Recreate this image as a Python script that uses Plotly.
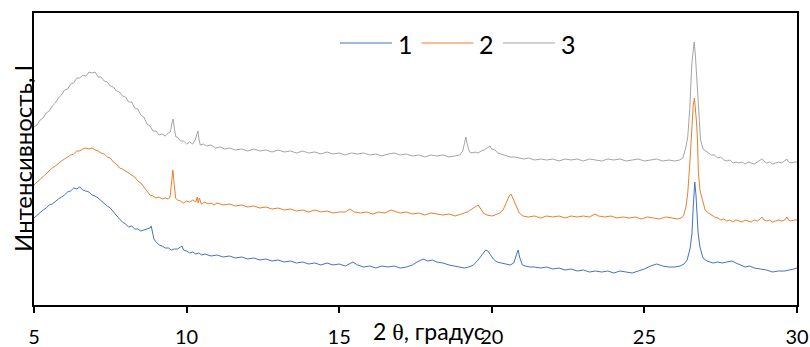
import plotly.graph_objects as go

# ---- data (2θ in degrees, intensity in arbitrary units) ----
series_names = ["1", "2", "3"]
series_colors = ["#4472C4", "#ED7D31", "#A5A5A5"]

x1 = [5.0, 5.1, 5.2, 5.3, 5.4, 5.5, 5.6, 5.7, 5.8, 5.9, 6.0, 6.1, 6.2, 6.3, 6.4, 6.5, 6.6, 6.7, 6.8, 6.9,
      7.0, 7.1, 7.2, 7.3, 7.4, 7.5, 7.6, 7.7, 7.8, 7.9, 8.0, 8.1, 8.2, 8.3, 8.4, 8.5, 8.6, 8.7, 8.8, 8.84,
      8.88, 8.93, 9.0, 9.1, 9.2, 9.3, 9.4, 9.5, 9.6, 9.7, 9.8, 9.85, 9.9, 10.0, 10.1, 10.2, 10.3, 10.4, 10.5, 10.6,
      10.8, 11.0, 11.2, 11.4, 11.6, 11.8, 12.0, 12.2, 12.4, 12.6, 12.8, 13.0, 13.2, 13.4, 13.6, 13.8, 14.0, 14.2, 14.4, 14.6,
      14.8, 15.0, 15.2, 15.35, 15.45, 15.6, 15.8, 16.0, 16.2, 16.4, 16.6, 16.8, 17.0, 17.2, 17.4, 17.55, 17.75, 17.9, 18.05, 18.2,
      18.4, 18.6, 18.8, 19.0, 19.1, 19.25, 19.4, 19.55, 19.7, 19.8, 19.87, 19.95, 20.05, 20.17, 20.3, 20.45, 20.6, 20.72, 20.8, 20.86,
      20.92, 21.0, 21.1, 21.25, 21.4, 21.6, 21.8, 22.0, 22.2, 22.4, 22.6, 22.8, 23.0, 23.2, 23.4, 23.6, 23.8, 24.0, 24.2, 24.4,
      24.6, 24.8, 25.0, 25.2, 25.4, 25.6, 25.8, 26.0, 26.17, 26.3, 26.4, 26.5, 26.56, 26.6, 26.65, 26.69, 26.72, 26.76, 26.82, 26.92,
      27.05, 27.15, 27.25, 27.4, 27.55, 27.7, 27.87, 28.0, 28.15, 28.3, 28.45, 28.6, 28.8, 29.0, 29.2, 29.4, 29.6, 29.8, 29.9, 30.0]
y1 = [87, 90, 92, 95, 97, 100, 101, 104, 106, 108, 110, 113, 114, 117, 116, 118, 115, 114, 113, 110,
      109, 107, 104, 102, 99, 97, 93, 90, 86, 83, 81, 78, 79, 76, 76, 74, 75, 76, 77, 79,
      72, 66, 63, 60, 59, 57, 57, 55, 56, 56, 58, 59, 55, 54, 52, 53, 51, 52, 50, 51,
      49, 50, 48, 49, 47, 48, 46, 47, 45, 46, 44, 45, 43, 44, 42, 43, 41, 42, 40, 42,
      40, 41, 39, 41, 43, 40, 38, 39, 37, 39, 38, 39, 37, 38, 40, 43, 46, 44, 45, 43,
      42, 40, 39, 38, 37, 38, 40, 45, 51, 55, 54, 50, 46, 43, 42, 41, 40, 42, 50, 55,
      47, 40, 39, 38, 38, 37, 38, 36, 37, 35, 36, 34, 35, 33, 34, 33, 34, 32, 34, 33,
      32, 34, 36, 39, 41, 39, 38, 38, 39, 41, 45, 57, 72, 98, 123, 110, 92, 72, 58, 47,
      44, 43, 42, 43, 42, 43, 44, 42, 40, 38, 39, 37, 36, 35, 33, 34, 34, 35, 36, 37]

x2 = [5.0, 5.1, 5.2, 5.3, 5.4, 5.5, 5.6, 5.7, 5.8, 5.9, 6.0, 6.1, 6.2, 6.3, 6.4, 6.5, 6.6, 6.7, 6.8, 6.9,
      7.0, 7.1, 7.2, 7.3, 7.4, 7.5, 7.6, 7.7, 7.8, 7.9, 8.0, 8.1, 8.2, 8.3, 8.4, 8.5, 8.6, 8.7, 8.8, 8.9,
      9.0, 9.1, 9.2, 9.3, 9.4, 9.46, 9.51, 9.55, 9.59, 9.64, 9.7, 9.8, 9.9, 10.0, 10.1, 10.2, 10.3, 10.35, 10.38, 10.42,
      10.48, 10.6, 10.7, 10.8, 10.9, 11.0, 11.2, 11.4, 11.6, 11.8, 12.0, 12.2, 12.4, 12.6, 12.8, 13.0, 13.2, 13.4, 13.6, 13.8,
      14.0, 14.2, 14.4, 14.6, 14.8, 15.0, 15.2, 15.35, 15.5, 15.7, 15.9, 16.1, 16.3, 16.5, 16.7, 16.8, 17.0, 17.2, 17.4, 17.6,
      17.8, 18.0, 18.2, 18.4, 18.6, 18.8, 19.0, 19.2, 19.35, 19.5, 19.55, 19.62, 19.72, 19.84, 20.0, 20.1, 20.25, 20.37, 20.48, 20.57,
      20.63, 20.7, 20.8, 20.9, 21.02, 21.2, 21.4, 21.6, 21.8, 22.0, 22.2, 22.4, 22.6, 22.8, 23.0, 23.2, 23.38, 23.5, 23.7, 23.9,
      24.1, 24.3, 24.5, 24.7, 24.9, 25.1, 25.3, 25.5, 25.7, 25.9, 26.1, 26.2, 26.28, 26.36, 26.42, 26.49, 26.55, 26.6, 26.64, 26.68,
      26.71, 26.74, 26.77, 26.82, 26.9, 26.99, 27.1, 27.2, 27.3, 27.41, 27.5, 27.6, 27.7, 27.8, 27.9, 28.0, 28.1, 28.2, 28.3, 28.4,
      28.5, 28.6, 28.7, 28.8, 28.85, 28.92, 29.0, 29.1, 29.2, 29.3, 29.4, 29.5, 29.6, 29.67, 29.72, 29.8, 29.9, 30.0]
y2 = [120, 123, 126, 128, 132, 134, 137, 139, 142, 144, 146, 148, 150, 151, 154, 154, 156, 157, 156, 157,
      155, 154, 152, 151, 148, 147, 143, 141, 137, 136, 134, 132, 130, 128, 124, 122, 118, 114, 110, 109,
      107, 108, 106, 107, 106, 108, 125, 135, 122, 107, 105, 104, 102, 104, 103, 105, 103, 108, 102, 107,
      101, 103, 101, 102, 100, 102, 100, 101, 99, 100, 98, 99, 97, 98, 96, 97, 95, 96, 94, 95,
      93, 95, 93, 94, 92, 93, 93, 96, 93, 92, 93, 91, 93, 92, 95, 94, 92, 93, 91, 92,
      90, 92, 91, 90, 91, 89, 91, 93, 96, 99, 100, 97, 92, 90, 89, 90, 92, 95, 103, 109,
      111, 106, 98, 92, 89, 88, 89, 87, 89, 88, 89, 87, 89, 88, 89, 88, 91, 89, 88, 89,
      87, 88, 87, 88, 86, 88, 87, 86, 88, 87, 86, 87, 89, 98, 112, 142, 178, 200, 207, 195,
      182, 165, 132, 115, 104, 95, 92, 90, 88, 87, 85, 86, 84, 85, 83, 85, 84, 83, 85, 84,
      83, 85, 84, 86, 88, 85, 84, 85, 83, 84, 85, 84, 85, 88, 85, 84, 85, 85]

x3 = [5.0, 5.1, 5.2, 5.3, 5.4, 5.5, 5.6, 5.7, 5.8, 5.9, 6.0, 6.1, 6.2, 6.3, 6.4, 6.5, 6.6, 6.7, 6.8, 6.9,
      7.0, 7.1, 7.2, 7.3, 7.4, 7.5, 7.6, 7.7, 7.8, 7.9, 8.0, 8.1, 8.2, 8.3, 8.4, 8.5, 8.6, 8.7, 8.8, 8.9,
      9.0, 9.1, 9.2, 9.3, 9.4, 9.47, 9.52, 9.56, 9.6, 9.65, 9.7, 9.8, 9.9, 10.0, 10.1, 10.2, 10.28, 10.33, 10.37, 10.41,
      10.45, 10.55, 10.65, 10.8, 10.95, 11.1, 11.25, 11.4, 11.6, 11.8, 12.0, 12.2, 12.4, 12.6, 12.8, 13.0, 13.2, 13.4, 13.6, 13.8,
      14.0, 14.2, 14.4, 14.6, 14.8, 15.0, 15.2, 15.4, 15.6, 15.8, 16.0, 16.2, 16.4, 16.6, 16.8, 17.0, 17.2, 17.4, 17.6, 17.8,
      18.0, 18.2, 18.4, 18.6, 18.8, 18.95, 19.05, 19.1, 19.15, 19.2, 19.27, 19.35, 19.45, 19.55, 19.65, 19.75, 19.85, 19.94, 20.0, 20.1,
      20.2, 20.3, 20.45, 20.6, 20.75, 20.9, 21.05, 21.2, 21.4, 21.6, 21.8, 22.0, 22.2, 22.4, 22.6, 22.8, 23.0, 23.2, 23.4, 23.6,
      23.8, 24.0, 24.2, 24.4, 24.6, 24.8, 25.0, 25.2, 25.4, 25.6, 25.8, 26.0, 26.15, 26.26, 26.36, 26.42, 26.49, 26.55, 26.6, 26.63,
      26.67, 26.72, 26.76, 26.79, 26.84, 26.92, 27.0, 27.1, 27.2, 27.3, 27.4, 27.5, 27.6, 27.7, 27.8, 27.9, 28.0, 28.1, 28.2, 28.3,
      28.4, 28.5, 28.6, 28.7, 28.8, 28.85, 28.92, 29.0, 29.1, 29.2, 29.3, 29.4, 29.5, 29.6, 29.67, 29.72, 29.8, 29.9, 30.0]
y3 = [178, 180, 185, 187, 192, 194, 199, 202, 207, 210, 215, 216, 221, 222, 227, 227, 230, 229, 233, 232,
      233, 228, 228, 224, 223, 219, 218, 214, 213, 209, 208, 203, 203, 197, 196, 190, 188, 181, 179, 174,
      174, 170, 171, 169, 172, 173, 182, 186, 176, 168, 168, 164, 164, 161, 163, 161, 165, 170, 174, 165,
      160, 161, 159, 160, 157, 158, 156, 157, 155, 156, 154, 156, 154, 155, 153, 155, 153, 154, 152, 154,
      152, 153, 151, 153, 151, 152, 150, 152, 151, 152, 150, 151, 149, 151, 152, 150, 151, 149, 150, 148,
      150, 149, 150, 148, 149, 150, 154, 162, 168, 160, 153, 152, 153, 152, 154, 155, 157, 159, 156, 155,
      152, 151, 150, 148, 148, 147, 146, 147, 145, 146, 145, 146, 144, 146, 145, 146, 144, 146, 145, 144,
      146, 145, 146, 144, 145, 146, 144, 145, 146, 144, 145, 144, 145, 147, 158, 168, 198, 240, 258, 263,
      250, 222, 200, 180, 165, 156, 154, 152, 150, 150, 147, 148, 145, 144, 145, 142, 143, 142, 143, 141,
      143, 142, 141, 143, 145, 146, 144, 142, 143, 141, 142, 143, 142, 144, 146, 143, 142, 143, 143]

x_ticks = [5, 10, 15, 20, 25, 30]
y_title = "Интенсивность, I"
x_title = "2 <span style='font-family:Liberation Serif;font-size:24px'>θ</span>, градус"

# ---- figure ----
W, H = 810, 347
ML, MR, MT, MB = 34, 13, 13, 42
PW, PH = W - ML - MR, H - MT - MB

fig = go.Figure()
for xs, ys, name, col in zip([x1, x2, x3], [y1, y2, y3], series_names, series_colors):
    fig.add_trace(go.Scatter(x=xs, y=ys, mode="lines", name=name,
                             line=dict(color=col, width=1), showlegend=False))

def px_to_paper_x(px):
    return (px - ML) / PW

def px_to_paper_y(py):
    return (H - MB - py) / PH

# custom legend (long line samples as in the reference)
shapes = []
annotations = []
leg_start, leg_step, leg_len, leg_y = 340, 81.5, 52, 43
for i, (name, col) in enumerate(zip(series_names, series_colors)):
    x0 = leg_start + i * leg_step
    shapes.append(dict(type="line", xref="paper", yref="paper",
                       x0=px_to_paper_x(x0), x1=px_to_paper_x(x0 + leg_len),
                       y0=px_to_paper_y(leg_y), y1=px_to_paper_y(leg_y),
                       line=dict(color=col, width=1.2)))
    annotations.append(dict(xref="paper", yref="paper", x=px_to_paper_x(x0 + leg_len + 13),
                            y=px_to_paper_y(leg_y + 1), text=name, showarrow=False,
                            xanchor="center", yanchor="middle",
                            font=dict(family="Lato", size=25, color="black")))

annotations.append(dict(xref="paper", yref="paper", x=px_to_paper_x(22), y=0.5,
                        text=y_title, textangle=-90, showarrow=False,
                        xanchor="center", yanchor="middle",
                        font=dict(family="Lato", size=24, color="black")))
annotations.append(dict(xref="paper", yref="paper", x=px_to_paper_x(371), y=px_to_paper_y(331),
                        text=x_title, showarrow=False, xanchor="left", yanchor="middle",
                        font=dict(family="Lato", size=23, color="black")))

fig.update_layout(
    width=W, height=H,
    margin=dict(l=ML, r=MR, t=MT, b=MB, pad=0, autoexpand=False),
    paper_bgcolor="white", plot_bgcolor="white",
    shapes=shapes, annotations=annotations,
    xaxis=dict(range=[5, 30], tickvals=x_ticks, ticktext=[str(t) for t in x_ticks],
               ticks="outside", ticklen=6, tickwidth=1.5, tickcolor="black",
               showgrid=False, zeroline=False, showline=True, linecolor="black",
               linewidth=1.8, mirror=True, ticklabelstandoff=7, automargin=False,
               tickfont=dict(family="Lato", size=20, color="black")),
    yaxis=dict(range=[0, 292], showticklabels=False, ticks="", showgrid=False, automargin=False,
               zeroline=False, showline=True, linecolor="black", linewidth=1.8, mirror=True),
)

fig.write_html("out.html")
